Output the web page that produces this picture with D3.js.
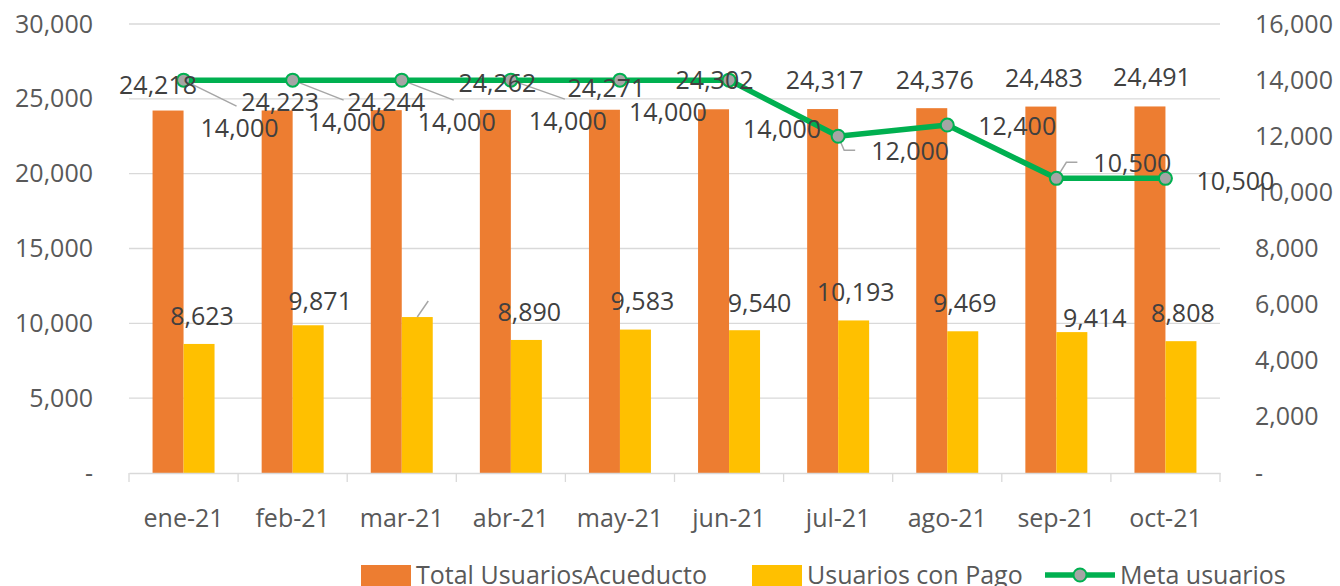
<!DOCTYPE html>
<html>
<head>
<meta charset="utf-8">
<script src="https://cdn.jsdelivr.net/npm/d3@7"></script>
<style>
    body { margin: 0; background: #fff; }
    text { font-family: "Open Sans", sans-serif; }
</style>
</head>
<body>
<div id="chart"></div>
<script>

// data
const months = ["ene-21", "feb-21", "mar-21", "abr-21", "may-21", "jun-21", "jul-21", "ago-21", "sep-21", "oct-21"];
const totalUsuarios = [24218, 24223, 24244, 24262, 24271, 24302, 24317, 24376, 24483, 24491];
const usuariosPago = [8623, 9871, 10420, 8890, 9583, 9540, 10193, 9469, 9414, 8808];
const metaUsuarios = [14000, 14000, 14000, 14000, 14000, 14000, 12000, 12400, 10500, 10500];
const leftTicks = [0, 5000, 10000, 15000, 20000, 25000, 30000];
const rightTicks = [0, 2000, 4000, 6000, 8000, 10000, 12000, 14000, 16000];
const seriesNames = ["Total UsuariosAcueducto", "Usuarios con Pago", "Meta usuarios"];

// hand-dragged label offsets in the original (px from the point)
const totalShift = [[-10, -26], [3, -8], [0, -8], [2, -27], [2, -22], [1, -29], [2, -29], [3, -28], [3, -29], [2, -29]];
const pagoShift = [[3, -28], [12, -24], null, [3, -28], [7, -29], [15, -27], [2, -28], [2, -28], [23, -14], [2, -28]];
const metaShift = [[56, 48], [54, 42], [55, 42], [57, 41], [48, 32], [53, 49], [72, 15], [70, 1], [76, -15], [70, 3]];
// which meta labels keep a leader line, and its kind
const metaLeader = ["top", "top", "top", "top", null, "top", "side", null, "side", null];

const colors = { total: "#ED7D31", pago: "#FFC000", meta: "#00B050", marker: "#A5A5A5" };

const W = 1340, H = 586;
const margin = { top: 24, right: 120, bottom: 113, left: 129 };

const svg = d3.select("#chart").append("svg")
    .attr("width", W)
    .attr("height", H);

const x = d3.scaleBand()
    .domain(months)
    .range([margin.left, W - margin.right]);

const xInner = d3.scaleBand()
    .domain(["total", "pago"])
    .range([0, x.bandwidth()])
    .paddingOuter(0.76);

const y = d3.scaleLinear()
    .domain([0, 30000])
    .range([H - margin.bottom, margin.top]);

const y2 = d3.scaleLinear()
    .domain([0, 16000])
    .range([H - margin.bottom, margin.top]);

const fmt = d3.format(",");
const tickFmt = d => d === 0 ? "-" : fmt(d);

// gridlines
svg.append("g")
    .selectAll("line")
    .data(leftTicks.filter(d => d > 0))
    .join("line")
    .attr("x1", margin.left)
    .attr("x2", W - margin.right)
    .attr("y1", d => y(d))
    .attr("y2", d => y(d))
    .attr("stroke", "#D9D9D9")
    .attr("stroke-width", 1.3);

// left axis
const yAxis = svg.append("g")
    .attr("transform", "translate(" + margin.left + ",0)")
    .call(d3.axisLeft(y).tickValues(leftTicks).tickFormat(tickFmt).tickSize(0).tickPadding(36));
yAxis.select(".domain").remove();
yAxis.selectAll("text")
    .attr("fill", "#595959")
    .style("font-size", "25px");

// right axis
const y2Axis = svg.append("g")
    .attr("transform", "translate(" + (W - margin.right) + ",0)")
    .call(d3.axisRight(y2).tickValues(rightTicks).tickFormat(tickFmt).tickSize(0).tickPadding(35));
y2Axis.select(".domain").remove();
y2Axis.selectAll("text")
    .attr("fill", "#595959")
    .style("font-size", "25px");

// bars
svg.append("g")
    .selectAll("rect")
    .data(totalUsuarios)
    .join("rect")
    .attr("x", (d, i) => x(months[i]) + xInner("total"))
    .attr("y", d => y(d))
    .attr("width", xInner.bandwidth())
    .attr("height", d => y(0) - y(d))
    .attr("fill", colors.total);

svg.append("g")
    .selectAll("rect")
    .data(usuariosPago)
    .join("rect")
    .attr("x", (d, i) => x(months[i]) + xInner("pago"))
    .attr("y", d => y(d))
    .attr("width", xInner.bandwidth())
    .attr("height", d => y(0) - y(d))
    .attr("fill", colors.pago);

// x axis
const xAxis = svg.append("g")
    .attr("transform", "translate(0," + y(0) + ")")
    .call(d3.axisBottom(x).tickSize(0).tickPadding(36));
xAxis.select(".domain").attr("stroke", "#D9D9D9").attr("stroke-width", 1.3);
xAxis.selectAll("text")
    .attr("fill", "#595959")
    .style("font-size", "25px");

// boundary ticks between months
svg.append("g")
    .selectAll("line")
    .data(months.concat(["end"]))
    .join("line")
    .attr("x1", (d, i) => i < months.length ? x(d) : x.range()[1])
    .attr("x2", (d, i) => i < months.length ? x(d) : x.range()[1])
    .attr("y1", y(0))
    .attr("y2", y(0) + 9)
    .attr("stroke", "#D9D9D9")
    .attr("stroke-width", 1.3);

const cx = i => x(months[i]) + x.bandwidth() / 2;

// label positions
const totalPos = totalUsuarios.map((d, i) => [x(months[i]) + xInner("total") + xInner.bandwidth() / 2 + totalShift[i][0], y(d) + totalShift[i][1]]);
const pagoPos = usuariosPago.map((d, i) => pagoShift[i] ? [x(months[i]) + xInner("pago") + xInner.bandwidth() / 2 + pagoShift[i][0], y(d) + pagoShift[i][1]] : null);
const metaPos = metaUsuarios.map((d, i) => [cx(i) + metaShift[i][0], y2(d) + metaShift[i][1]]);

const leaders = svg.append("g")
    .attr("fill", "none")
    .attr("stroke", "#A6A6A6")
    .attr("stroke-width", 1.5);

// line series
const line = d3.line()
    .x((d, i) => cx(i))
    .y(d => y2(d));

svg.append("path")
    .attr("d", line(metaUsuarios))
    .attr("fill", "none")
    .attr("stroke", colors.meta)
    .attr("stroke-width", 5.5)
    .attr("stroke-linejoin", "round");

const markers = svg.append("g");

// data labels
const labelG = svg.append("g")
    .attr("fill", "#404040")
    .style("font-size", "25px")
    .attr("text-anchor", "middle");

labelG.selectAll(".lbl-total")
    .data(totalUsuarios)
    .join("text")
    .attr("class", "lbl-total")
    .attr("x", (d, i) => totalPos[i][0])
    .attr("y", (d, i) => totalPos[i][1] + 9)
    .text(d => fmt(d));

labelG.selectAll(".lbl-pago")
    .data(usuariosPago.map((d, i) => ({ v: d, i: i })).filter(d => pagoPos[d.i]))
    .join("text")
    .attr("class", "lbl-pago")
    .attr("x", d => pagoPos[d.i][0])
    .attr("y", d => pagoPos[d.i][1] + 9)
    .text(d => fmt(d.v));

const metaLabels = labelG.selectAll(".lbl-meta")
    .data(metaUsuarios)
    .join("text")
    .attr("class", "lbl-meta")
    .attr("x", (d, i) => metaPos[i][0])
    .attr("y", (d, i) => metaPos[i][1] + 9)
    .text(d => fmt(d));

// leader lines for the moved labels
metaLabels.each(function(d, i) {
    if (!metaLeader[i]) return;
    let p0 = [cx(i), y2(d)];
    let pts;
    if (metaLeader[i] === "top") {
        pts = [p0, [metaPos[i][0] - 3, metaPos[i][1] - 22]];
    } else {
        let left = metaPos[i][0] - this.getComputedTextLength() / 2;
        pts = [p0, [left - 27, metaPos[i][1] - 1], [left - 16, metaPos[i][1] - 1]];
    }
    leaders.append("path").attr("d", d3.line()(pts));
});

// hidden label of mar-21 keeps only its leader
usuariosPago.forEach((d, i) => {
    if (pagoPos[i]) return;
    let bx = x(months[i]) + xInner("pago") + xInner.bandwidth() / 2;
    leaders.append("path").attr("d", d3.line()([[bx, y(d)], [bx + 11, y(d) - 16]]));
});

markers.selectAll("circle")
    .data(metaUsuarios)
    .join("circle")
    .attr("cx", (d, i) => cx(i))
    .attr("cy", d => y2(d))
    .attr("r", 6.5)
    .attr("fill", colors.marker)
    .attr("stroke", colors.meta)
    .attr("stroke-width", 2);

// legend
const legend = svg.append("g")
    .style("font-size", "25px")
    .attr("fill", "#595959");

const legendX = [361, 752, 1045];
legend.append("rect").attr("x", legendX[0]).attr("y", 565).attr("width", 50).attr("height", 25).attr("fill", colors.total);
legend.append("rect").attr("x", legendX[1]).attr("y", 565).attr("width", 50).attr("height", 25).attr("fill", colors.pago);
legend.append("line")
    .attr("x1", legendX[2]).attr("x2", legendX[2] + 70)
    .attr("y1", 575).attr("y2", 575)
    .attr("stroke", colors.meta).attr("stroke-width", 5.5);
legend.append("circle")
    .attr("cx", legendX[2] + 35).attr("cy", 575).attr("r", 6.5)
    .attr("fill", colors.marker).attr("stroke", colors.meta).attr("stroke-width", 2);

legend.selectAll("text")
    .data(seriesNames)
    .join("text")
    .attr("x", (d, i) => legendX[i] + (i === 2 ? 75 : 55))
    .attr("y", 584)
    .text(d => d);

</script>
</body>
</html>
